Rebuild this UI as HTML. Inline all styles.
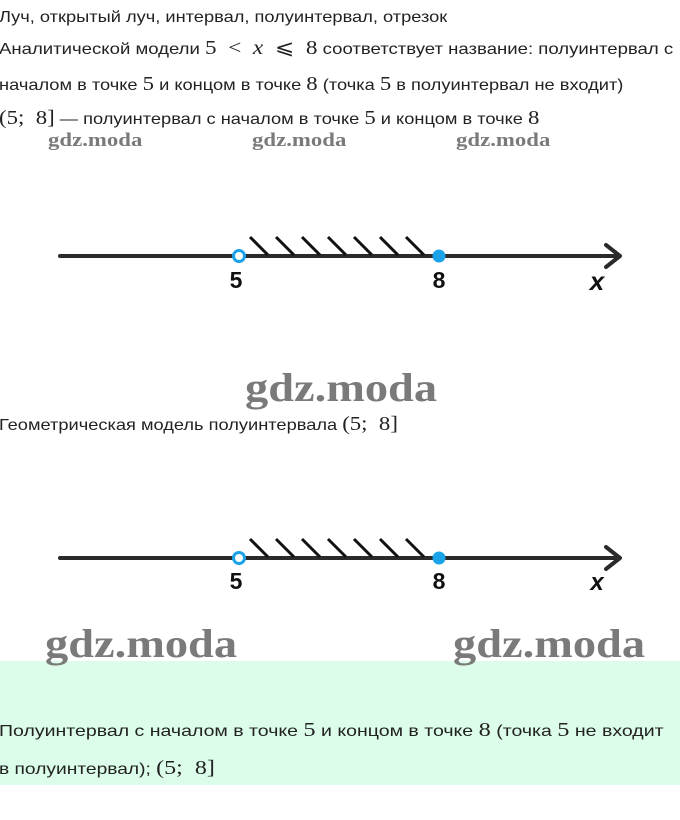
<!DOCTYPE html>
<html><head><meta charset="utf-8"><style>
html,body{margin:0;padding:0;background:#fff;width:680px;height:820px;overflow:hidden;position:relative}
.t{position:absolute;left:-1px;white-space:nowrap;font-family:"Liberation Sans",sans-serif;font-size:16px;color:#222;line-height:20px;transform-origin:0 0;transform:scaleX(1.14)}
.m{font-family:"Liberation Serif",serif;font-size:20px}
.w{position:absolute;white-space:nowrap;font-family:"Liberation Serif",serif;font-weight:bold;color:#7a7a7a;transform-origin:0 0}
.band{position:absolute;left:0;top:661px;width:680px;height:124px;background:#dcfde9}
</style></head><body>
<div class="t" style="top:8px">Луч, открытый луч, интервал, полуинтервал, отрезок</div>
<div class="t" style="top:38px;transform:scaleX(1.16)">Аналитической модели <span class="m">5 &nbsp;&lt; &nbsp;<i>x</i> &nbsp;⩽ &nbsp;8</span> соответствует название: полуинтервал с</div>
<div class="t" style="top:74px">началом в точке <span class="m">5</span> и концом в точке <span class="m">8</span> (точка <span class="m">5</span> в полуинтервал не входит)</div>
<div class="t" style="top:108px"><span class="m">(5; &nbsp;8]</span> — полуинтервал с началом в точке <span class="m">5</span> и концом в точке <span class="m">8</span></div>
<div class="w" style="left:48px;top:130px;font-size:19px;transform:scaleX(1.2)">gdz.moda</div>
<div class="w" style="left:252px;top:130px;font-size:19px;transform:scaleX(1.2)">gdz.moda</div>
<div class="w" style="left:456px;top:130px;font-size:19px;transform:scaleX(1.2)">gdz.moda</div>

<svg style="position:absolute;left:0;top:0" width="680" height="820">
<g stroke="#2a2a2a" stroke-width="4" fill="none" stroke-linecap="round" stroke-linejoin="round">
<line x1="60" y1="256" x2="619" y2="256"/>
<polyline points="606,245 620,256 606,267"/>
<line x1="60" y1="558" x2="619" y2="558"/>
<polyline points="606,547 620,558 606,569"/>
</g>
<g stroke="#111" stroke-width="3">
<line x1="250" y1="237" x2="268" y2="255"/><line x1="276" y1="237" x2="294" y2="255"/>
<line x1="302" y1="237" x2="320" y2="255"/><line x1="328" y1="237" x2="346" y2="255"/>
<line x1="354" y1="237" x2="372" y2="255"/><line x1="380" y1="237" x2="398" y2="255"/>
<line x1="406" y1="237" x2="424" y2="255"/>
<line x1="250" y1="539" x2="268" y2="557"/><line x1="276" y1="539" x2="294" y2="557"/>
<line x1="302" y1="539" x2="320" y2="557"/><line x1="328" y1="539" x2="346" y2="557"/>
<line x1="354" y1="539" x2="372" y2="557"/><line x1="380" y1="539" x2="398" y2="557"/>
<line x1="406" y1="539" x2="424" y2="557"/>
</g>
<circle cx="239" cy="256" r="5.5" fill="#fff" stroke="#1aa3e8" stroke-width="3"/>
<circle cx="439" cy="256" r="6.5" fill="#1aa3e8"/>
<circle cx="239" cy="558" r="5.5" fill="#fff" stroke="#1aa3e8" stroke-width="3"/>
<circle cx="439" cy="558" r="6.5" fill="#1aa3e8"/>
<g font-family="Liberation Sans, sans-serif" font-size="23" font-weight="bold" fill="#111" text-anchor="middle">
<text x="236" y="288">5</text><text x="439" y="288">8</text>
<text x="597" y="290" font-style="italic" font-size="26">x</text>
<text x="236" y="589">5</text><text x="439" y="589">8</text>
<text x="597" y="590" font-style="italic" font-size="24">x</text>
</g>
</svg>

<div class="w" style="left:245px;top:364px;font-size:40px;transform:scaleX(1.16)">gdz.moda</div>
<div class="t" style="top:414px">Геометрическая модель полуинтервала <span class="m">(5; &nbsp;8]</span></div>

<div class="band"></div>
<div class="w" style="left:45px;top:620px;font-size:40px;transform:scaleX(1.16)">gdz.moda</div>
<div class="w" style="left:453px;top:620px;font-size:40px;transform:scaleX(1.16)">gdz.moda</div>
<div class="t" style="top:720px;transform:scaleX(1.22)">Полуинтервал с началом в точке <span class="m">5</span> и концом в точке <span class="m">8</span> (точка <span class="m">5</span> не входит</div>
<div class="t" style="top:758px;transform:scaleX(1.2)">в полуинтервал); <span class="m">(5; &nbsp;8]</span></div>
</body></html>
